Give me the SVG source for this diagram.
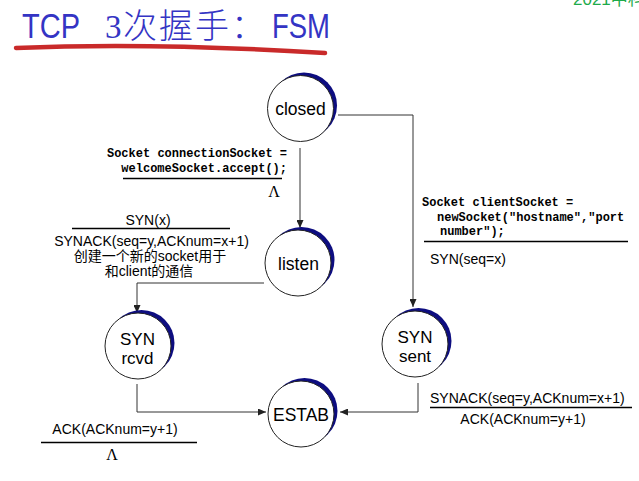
<svg xmlns="http://www.w3.org/2000/svg" width="639" height="481" viewBox="0 0 639 481">
<style>
.shadow{fill:#0d0d80;stroke:none}
.node{fill:#fff;stroke:#222;stroke-width:1}
.nt{font-family:"Liberation Sans",Arial,sans-serif;font-size:17.5px;fill:#000;text-anchor:middle}
.nt2{font-family:"Liberation Sans",Arial,sans-serif;font-size:17px;fill:#000;text-anchor:middle}
.conn{fill:none;stroke:#333;stroke-width:1}
.code{font-family:"Liberation Mono","Courier New",monospace;font-weight:bold;font-size:12px;fill:#000}
.lab{font-family:"Liberation Sans",Arial,"Noto Sans CJK SC",sans-serif;font-size:14px;fill:#000}
.bar{stroke:#000;stroke-width:1.5}
.lam{font-family:"Liberation Serif","Times New Roman",serif;font-size:16px;fill:#000;text-anchor:middle}
.title{fill:#3434c4}
</style>
<defs>
<marker id="arr" markerWidth="8" markerHeight="7" refX="8" refY="3.5" orient="auto" markerUnits="userSpaceOnUse">
<path d="M0,0 L8,3.5 L0,7 z" fill="#222"/>
</marker>
</defs>
<rect width="639" height="481" fill="#fff"/>

<g id="title">
<text x="22" y="38" class="title" font-family="Liberation Sans,Arial,sans-serif" font-size="35" textLength="58" lengthAdjust="spacingAndGlyphs">TCP</text>
<text x="105" y="38" class="title" font-family="Liberation Serif,serif" font-size="33">3</text>
<text x="123" y="38" class="title" font-family="Noto Sans CJK SC,sans-serif" font-weight="300" font-size="34" letter-spacing="2">次握手：</text>
<text x="272" y="38" class="title" font-family="Liberation Sans,Arial,sans-serif" font-size="35" textLength="58" lengthAdjust="spacingAndGlyphs">FSM</text>
<path d="M16,48 Q150,42 325,53" fill="none" stroke="#c92a2a" stroke-width="4.5" stroke-linecap="round"/>
<text x="573" y="5" font-family="Liberation Sans,Arial,Noto Sans CJK SC,sans-serif" font-size="17" fill="#1daa4a">2021中科</text>
</g>

<g id="connectors">
<path class="conn" d="M300,148 V228" marker-end="url(#arr)"/>
<path class="conn" d="M338,115 H413 V307" marker-end="url(#arr)"/>
<path class="conn" d="M264,283 H137 V313" marker-end="url(#arr)"/>
<path class="conn" d="M137,384 V412 H266" marker-end="url(#arr)"/>
<path class="conn" d="M418,383 V412 H340" marker-end="url(#arr)"/>
</g>

<g id="closed">
<circle class="shadow" cx="304" cy="105.5" r="33"/>
<circle class="node" cx="300.5" cy="108.5" r="33"/>
<text class="nt" x="300.5" y="115">closed</text>
</g>
<g id="listen">
<circle class="shadow" cx="301.5" cy="260" r="33"/>
<circle class="node" cx="298" cy="263" r="33"/>
<text class="nt" x="298.5" y="270">listen</text>
</g>
<g id="syn-rcvd">
<circle class="shadow" cx="141.5" cy="343" r="33"/>
<circle class="node" cx="138" cy="346" r="33"/>
<text class="nt2" x="137.5" y="345">SYN</text>
<text class="nt2" x="137.5" y="364">rcvd</text>
</g>
<g id="syn-sent">
<circle class="shadow" cx="418.5" cy="341" r="33"/>
<circle class="node" cx="415" cy="344" r="33"/>
<text class="nt2" x="415" y="343">SYN</text>
<text class="nt2" x="415" y="362">sent</text>
</g>
<g id="estab">
<circle class="shadow" cx="304.5" cy="411" r="33"/>
<circle class="node" cx="301" cy="414" r="33"/>
<text class="nt" x="301" y="421">ESTAB</text>
</g>

<g id="label-closed-listen">
<text class="code" x="287" y="157" text-anchor="end">Socket connectionSocket =</text>
<text class="code" x="287" y="172" text-anchor="end">welcomeSocket.accept();</text>
<line class="bar" x1="123" y1="178.5" x2="282" y2="178.5"/>
<text class="lam" x="274" y="197">Λ</text>
</g>

<g id="label-listen-rcvd">
<text class="lab" x="148" y="225" font-size="15" text-anchor="middle">SYN(x)</text>
<line class="bar" x1="72" y1="228.5" x2="230" y2="228.5"/>
<text class="lab" x="151.5" y="246" text-anchor="middle">SYNACK(seq=y,ACKnum=x+1)</text>
<text class="lab" x="150" y="260.5" text-anchor="middle" font-size="13.5">创建一个新的socket用于</text>
<text class="lab" x="149" y="275.5" text-anchor="middle" font-size="13.5">和client的通信</text>
</g>

<g id="label-closed-sent">
<text class="code" x="422" y="206">Socket clientSocket =</text>
<text class="code" x="437" y="221">newSocket("hostname","port</text>
<text class="code" x="440" y="235">number");</text>
<line class="bar" x1="424" y1="241.5" x2="628" y2="241.5"/>
<text class="lab" x="430" y="264" font-size="15.5">SYN(seq=x)</text>
</g>

<g id="label-rcvd-estab">
<text class="lab" x="115" y="434" text-anchor="middle">ACK(ACKnum=y+1)</text>
<line class="bar" x1="41" y1="442.5" x2="197" y2="442.5"/>
<text class="lam" x="112" y="460">Λ</text>
</g>

<g id="label-sent-estab">
<text class="lab" x="430" y="403">SYNACK(seq=y,ACKnum=x+1)</text>
<line class="bar" x1="430" y1="407.5" x2="632" y2="407.5"/>
<text class="lab" x="523" y="424" text-anchor="middle">ACK(ACKnum=y+1)</text>
</g>
</svg>
